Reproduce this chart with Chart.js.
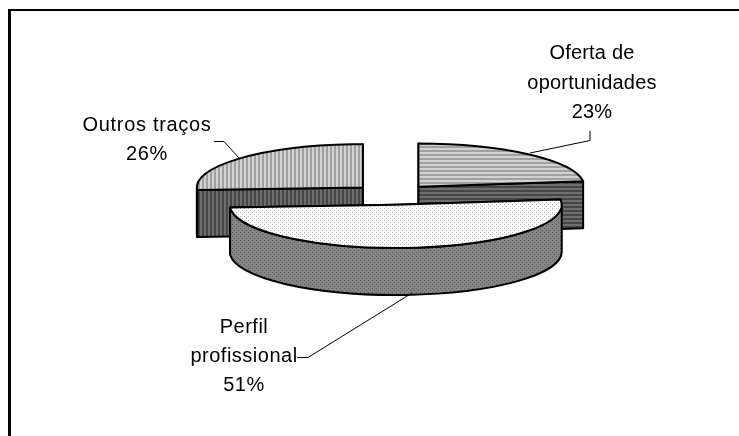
<!DOCTYPE html>
<html>
<head>
<meta charset="utf-8">
<title>Pie</title>
<script src="https://cdn.jsdelivr.net/npm/chart.js@4"></script>
<style>
    html, body { margin: 0; padding: 0; background: #fff; }
    canvas { display: block; }
</style>
</head>
<body>
<canvas id="pieChart" width="739" height="436"></canvas>
<script>
const categories = ["Oferta de oportunidades", "Perfil profissional", "Outros traços"];
const values = [23, 51, 26];
const labelLines = [["Oferta de", "oportunidades"], ["Perfil", "profissional"], ["Outros traços"]];

// 3d look of the old office pie
const TILT = 0.26;
const DEPTH = 47;

function makePattern(size, paint) {
    const c = document.createElement("canvas");
    c.width = size;
    c.height = size;
    paint(c.getContext("2d"));
    return c;
}

function stripes(vertical, light, dark) {
    return makePattern(4, g => {
        g.fillStyle = light;
        g.fillRect(0, 0, 4, 4);
        g.fillStyle = dark;
        if (vertical) g.fillRect(2, 0, 2, 4);
        else g.fillRect(0, 2, 4, 2);
    });
}

function dots(base, dot) {
    return makePattern(4, g => {
        g.fillStyle = base;
        g.fillRect(0, 0, 4, 4);
        g.fillStyle = dot;
        g.fillRect(0, 0, 1, 1);
        g.fillRect(2, 2, 1, 1);
    });
}

const ctx = document.getElementById("pieChart").getContext("2d");

const topFills = [
    ctx.createPattern(stripes(false, "#d2d2d2", "#a0a0a0"), "repeat"),
    ctx.createPattern(dots("#ffffff", "#b4b4b4"), "repeat"),
    ctx.createPattern(stripes(true, "#d2d2d2", "#a0a0a0"), "repeat")
];
const sideFills = [
    ctx.createPattern(stripes(false, "#6e6e6e", "#464646"), "repeat"),
    ctx.createPattern(dots("#858585", "#5c5c5c"), "repeat"),
    ctx.createPattern(stripes(true, "#6e6e6e", "#464646"), "repeat")
];

function paintShape(g, fill) {
    g.fillStyle = fill;
    g.fill();
    g.strokeStyle = "#000";
    g.lineWidth = 2;
    g.lineJoin = "round";
    g.stroke();
}

function drawSlice(g, arc, index) {
    const p = arc.getProps(["x", "y", "startAngle", "endAngle", "outerRadius"]);
    const r = p.outerRadius;
    const mid = (p.startAngle + p.endAngle) / 2;
    const off = (arc.options.offset || 0) / 4;
    const cx = p.x + Math.cos(mid) * off;
    const cy = p.y + Math.sin(mid) * off * TILT;
    const ry = r * TILT;
    const rim = a => [cx + Math.cos(a) * r, cy + Math.sin(a) * ry];

    // the two cut faces
    [p.startAngle, p.endAngle].forEach(a => {
        const [ex, ey] = rim(a);
        g.beginPath();
        g.moveTo(cx, cy);
        g.lineTo(ex, ey);
        g.lineTo(ex, ey + DEPTH);
        g.lineTo(cx, cy + DEPTH);
        g.closePath();
        paintShape(g, sideFills[index]);
    });

    // front part of the rim
    const from = Math.max(p.startAngle, 0);
    const to = Math.min(p.endAngle, Math.PI);
    if (to > from) {
        g.beginPath();
        g.ellipse(cx, cy, r, ry, 0, from, to);
        g.ellipse(cx, cy + DEPTH, r, ry, 0, to, from, true);
        g.closePath();
        paintShape(g, sideFills[index]);
    }

    g.beginPath();
    g.moveTo(cx, cy);
    g.ellipse(cx, cy, r, ry, 0, p.startAngle, p.endAngle);
    g.closePath();
    paintShape(g, topFills[index]);
}

const pie3d = {
    id: "pie3d",
    beforeDatasetsDraw(chart) {
        const g = chart.ctx;
        const arcs = chart.getDatasetMeta(0).data;
        g.save();
        // back slices first, the big front one last
        [2, 0, 1].forEach(i => drawSlice(g, arcs[i], i));
        g.restore();
        return false;
    },
    afterDraw(chart) {
        const g = chart.ctx;
        g.save();
        g.fillStyle = "#000";
        g.fillRect(8, 9, 731, 2);
        g.fillRect(8, 9, 3, 427);

        g.strokeStyle = "#000";
        g.lineWidth = 1;
        [
            [[214, 141.5], [224, 141.5], [239, 158]],
            [[590, 131], [590, 140.5], [530, 153]],
            [[297, 357.5], [308, 357.5], [412, 293]]
        ].forEach(line => {
            g.beginPath();
            line.forEach((pt, i) => i ? g.lineTo(pt[0], pt[1]) : g.moveTo(pt[0], pt[1]));
            g.stroke();
        });

        g.font = '20px "Liberation Sans"';
        g.textAlign = "center";
        g.textBaseline = "alphabetic";
        const spots = [[592, 59, 29.5, 0.2], [244, 333, 29, 0.5], [147, 131, 28.5, 0.7]];
        values.forEach((v, i) => {
            const [x, y, step, spacing] = spots[i];
            g.letterSpacing = spacing + "px";
            const lines = labelLines[i].concat(v + "%");
            lines.forEach((t, n) => g.fillText(t, x, y + n * step));
        });
        g.restore();
    }
};

new Chart(ctx, {
    type: "pie",
    data: {
        labels: categories,
        datasets: [{
            data: values,
            offset: 160,
            radius: 166,
            borderWidth: 0
        }]
    },
    options: {
        responsive: false,
        animation: false,
        layout: { padding: { left: 45, bottom: 47 } },
        plugins: {
            legend: { display: false },
            tooltip: { enabled: false }
        }
    },
    plugins: [pie3d]
});
</script>
</body>
</html>
